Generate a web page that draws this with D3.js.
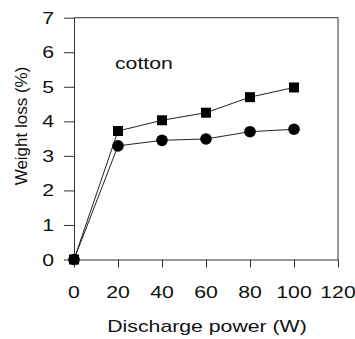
<!DOCTYPE html>
<html>
<head>
<meta charset="utf-8">
<script src="https://cdn.jsdelivr.net/npm/d3@7"></script>
<style>
  html, body { margin: 0; padding: 0; background: #fff; }
  svg text { font-family: "Liberation Sans", Arial, sans-serif; fill: #111; }
</style>
</head>
<body>
<svg id="chart" width="355" height="339"></svg>
<script>
// Weight loss of cotton versus discharge power
const power = [0, 20, 40, 60, 80, 100];
const squareSeries = [0, 3.72, 4.03, 4.25, 4.70, 4.98];
const circleSeries = [0, 3.29, 3.45, 3.49, 3.70, 3.77];
const xTicks = [0, 20, 40, 60, 80, 100, 120];
const yTicks = [0, 1, 2, 3, 4, 5, 6, 7];
const sampleLabel = "cotton";
const xTitle = "Discharge power (W)";
const yTitle = "Weight loss (%)";

const svg = d3.select("#chart");
const plotLeft = 74, plotRight = 338, plotTop = 17.7, plotBottom = 259.5;
const stretch = 1.25; // glyphs are drawn slightly widened
const fontSize = 17;

const x = d3.scaleLinear().domain([0, 120]).range([plotLeft, plotRight]);
const y = d3.scaleLinear().domain([0, 7]).range([plotBottom, plotTop]);

const axisColor = "#333";

// frame: top and right edges
svg.append("line").attr("x1", plotLeft).attr("x2", plotRight).attr("y1", plotTop).attr("y2", plotTop)
  .attr("stroke", axisColor).attr("stroke-width", 1);
svg.append("line").attr("x1", plotRight).attr("x2", plotRight).attr("y1", plotTop).attr("y2", plotBottom)
  .attr("stroke", axisColor).attr("stroke-width", 1);

// bottom axis
const xAxis = svg.append("g").attr("transform", `translate(0,${plotBottom})`)
  .call(d3.axisBottom(x).tickValues(xTicks).tickSize(8).tickSizeOuter(0).tickFormat(""));
xAxis.select(".domain").attr("stroke", axisColor);
xAxis.selectAll(".tick line").attr("stroke", axisColor);

// left axis
const yAxis = svg.append("g").attr("transform", `translate(${plotLeft},0)`)
  .call(d3.axisLeft(y).tickValues(yTicks).tickSize(10).tickSizeOuter(0).tickFormat(""));
yAxis.select(".domain").attr("stroke", axisColor);
yAxis.selectAll(".tick line").attr("stroke", axisColor);

// tick labels (widened text)
svg.append("g").selectAll("text").data(xTicks).join("text")
  .attr("transform", d => `translate(${x(d)},298) scale(${stretch},1)`)
  .attr("text-anchor", "middle").attr("font-size", fontSize)
  .text(d => d);

svg.append("g").selectAll("text").data(yTicks).join("text")
  .attr("transform", d => `translate(54,${y(d) + 6}) scale(${stretch},1)`)
  .attr("text-anchor", "end").attr("font-size", fontSize)
  .text(d => d);

// axis titles
svg.append("text")
  .attr("transform", `translate(207,332) scale(${stretch},1)`)
  .attr("text-anchor", "middle").attr("font-size", fontSize)
  .text(xTitle);

svg.append("text")
  .attr("transform", `translate(27,126) rotate(-90)`)
  .attr("text-anchor", "middle").attr("font-size", fontSize)
  .text(yTitle);

// sample label
svg.append("text")
  .attr("transform", `translate(115,69) scale(${stretch},1)`)
  .attr("font-size", fontSize)
  .text(sampleLabel);

// series lines
const line = d3.line().x((d, i) => x(power[i])).y(d => y(d));
[squareSeries, circleSeries].forEach(series => {
  svg.append("path").datum(series).attr("d", line)
    .attr("fill", "none").attr("stroke", "#222").attr("stroke-width", 1);
});

// square markers
svg.append("g").selectAll("rect").data(squareSeries).join("rect")
  .attr("x", (d, i) => x(power[i]) - 5).attr("y", d => y(d) - 5)
  .attr("width", 10).attr("height", 10).attr("fill", "#000");

// circle markers
svg.append("g").selectAll("circle").data(circleSeries).join("circle")
  .attr("cx", (d, i) => x(power[i])).attr("cy", d => y(d))
  .attr("r", 5.8).attr("fill", "#000");
</script>
</body>
</html>
